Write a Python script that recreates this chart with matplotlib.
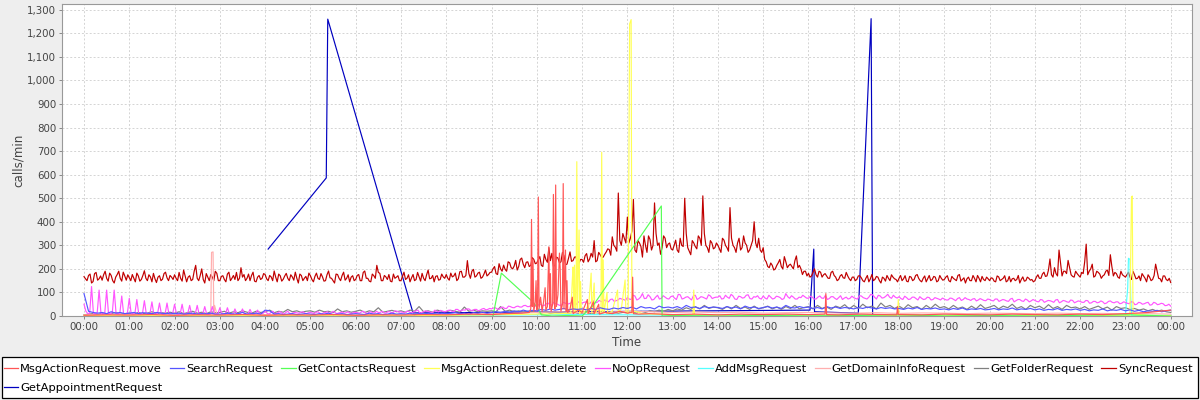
import matplotlib
matplotlib.use("Agg")
import matplotlib.pyplot as plt
from matplotlib.lines import Line2D
from matplotlib.patches import Rectangle
import numpy as np

# ---------------- DATA ----------------
hour_labels = ["00:00", "01:00", "02:00", "03:00", "04:00", "05:00", "06:00", "07:00",
               "08:00", "09:00", "10:00", "11:00", "12:00", "13:00", "14:00", "15:00",
               "16:00", "17:00", "18:00", "19:00", "20:00", "21:00", "22:00", "23:00", "00:00"]
y_ticks = list(range(0, 1301, 100))

# SyncRequest readings at minutes 0,4,8,...,1440
sync_even = [
    167,150,178,146,185,158,152,190,148,172,140,176,160,186,152,   # 00
    162,176,145,170,155,192,150,166,181,142,171,156,186,150,165,   # 01
    175,150,160,195,145,171,155,215,150,200,140,165,176,150,181,   # 02
    150,171,145,186,160,155,150,205,176,160,150,186,145,172,160,   # 03
    176,150,166,191,145,171,156,181,150,166,186,140,172,160,150,   # 04
    171,145,182,155,166,150,191,160,140,176,150,186,160,145,171,   # 05
    155,176,150,191,160,145,171,215,181,150,166,176,145,160,171,   # 06
    150,186,160,145,176,155,166,181,150,195,160,145,171,155,166,   # 07
    176,152,166,182,158,190,165,235,160,198,170,186,165,195,176,   # 08
    186,210,176,200,216,190,226,200,236,210,246,205,230,215,240,   # 09
    225,252,210,240,290,266,215,246,230,256,220,272,235,251,225,   # 10
    240,256,230,266,320,235,260,250,272,282,336,292,522,300,330,   # 11
    420,330,495,270,310,250,300,340,280,480,300,262,340,290,310,   # 12
    280,322,270,300,500,290,260,310,285,330,510,300,270,310,290,   # 13
    300,270,322,290,460,300,270,330,290,310,270,300,400,290,280,   # 14
    290,230,205,215,200,226,210,252,205,220,200,255,215,176,190,   # 15
    181,170,200,165,186,175,170,160,190,165,155,176,160,170,150,   # 16
    165,155,171,150,160,145,176,155,165,140,160,172,150,165,155,   # 17
    160,150,171,145,165,155,176,150,160,145,172,155,165,150,160,   # 18
    155,171,145,160,150,176,155,140,165,150,160,172,145,155,165,   # 19
    150,160,145,166,155,171,150,145,160,155,140,166,150,160,155,   # 20
    150,175,160,186,170,242,165,180,280,170,190,236,175,165,180,   # 21
    165,180,305,190,220,170,185,160,175,195,260,170,180,160,175,   # 22
    165,186,155,175,160,150,170,145,165,155,220,160,145,170,150,   # 23
    142]
# SyncRequest readings at minutes 2,6,10,...,1438
sync_odd = [
    158,172,140,180,152,170,175,160,182,150,165,190,148,170,175,   # 00
    150,160,182,148,172,160,175,145,158,165,150,180,162,172,155,   # 01
    160,185,148,170,165,150,190,160,172,155,180,150,165,190,150,   # 02
    168,155,178,150,172,185,160,165,150,178,172,148,165,155,180,   # 03
    158,172,150,165,178,148,170,160,175,152,160,178,150,168,182,   # 04
    155,168,160,180,148,175,162,150,178,160,172,152,175,165,150,   # 05
    172,150,185,160,148,178,160,185,150,172,155,148,178,165,150,   # 06
    168,155,175,162,150,185,148,160,175,158,172,168,152,178,160,   # 07
    160,182,170,150,188,165,172,180,190,165,182,160,178,170,185,   # 08
    200,180,222,190,198,230,205,212,195,240,220,228,210,248,222,   # 09
    240,215,262,228,235,210,250,225,270,218,245,232,250,215,240,   # 10
    228,265,242,250,230,270,248,262,285,258,300,275,320,350,310,   # 11
    310,360,280,320,295,340,270,325,300,350,310,290,330,305,285,   # 12
    300,280,330,295,350,275,320,295,340,300,350,290,320,285,310,   # 13
    285,330,300,275,330,290,310,280,340,300,280,320,310,330,270,   # 14
    240,210,225,195,215,240,200,230,215,210,235,205,200,190,170,   # 15
    165,185,175,190,165,180,160,185,172,150,170,162,185,158,165,   # 16
    150,170,162,145,172,158,150,168,150,165,148,160,175,158,145,   # 17
    172,158,148,168,150,172,160,145,170,158,150,168,145,172,152,   # 18
    165,150,168,155,172,148,162,158,150,172,145,160,168,150,158,   # 19
    162,148,170,150,160,145,168,158,150,172,155,148,165,152,145,   # 20
    165,160,178,168,195,175,205,170,225,190,180,205,168,190,172,   # 21
    185,230,175,200,165,190,178,170,190,172,210,185,165,190,170,   # 22
    175,165,190,158,170,180,160,175,150,172,190,158,170,155,160]   # 23

# NoOpRequest readings at minutes 0,5,10,...,1440
noop_even = [
    50,10,125,10,110,8,110,10,110,8,85,10,
    75,8,70,8,65,6,60,8,55,6,55,8,
    50,6,50,8,45,6,45,8,40,6,40,8,
    35,8,35,6,30,8,30,6,28,8,25,10,
    22,8,20,10,18,8,20,10,15,12,18,10,
    15,10,18,8,15,12,20,10,15,12,18,10,
    15,12,20,10,18,12,15,20,12,18,15,20,
    18,12,20,15,22,12,18,20,15,25,18,20,
    20,25,18,28,22,25,30,22,28,25,32,28,
    30,35,28,38,32,40,35,42,38,45,40,48,
    42,50,45,55,48,52,45,58,50,55,48,60,
    55,60,52,65,58,62,68,60,72,65,75,70,
    78,70,85,72,95,75,82,70,88,75,80,72,
    85,70,90,75,82,68,88,75,80,72,85,78,
    80,72,88,75,85,70,82,78,90,72,80,75,
    85,72,80,75,82,70,95,75,80,72,78,82,
    75,80,72,85,75,70,82,75,78,70,80,75,
    78,72,85,75,80,90,72,85,78,92,75,80,
    82,70,78,72,80,68,75,72,78,70,75,68,
    72,68,75,65,78,70,72,66,74,68,70,65,
    70,64,72,66,68,62,75,65,70,62,68,64,
    66,60,68,62,65,58,70,60,64,58,66,60,
    62,58,65,56,62,58,60,55,64,56,60,54,
    58,52,60,50,56,52,58,48,55,50,52,45,
    42]
# NoOpRequest readings at minutes 2.5,7.5,...,1437.5
noop_mid = [
    20,12,10,14,10,12,9,14,10,12,9,12,
    10,12,9,11,10,12,8,11,9,10,8,10,
    9,10,8,11,9,10,8,10,9,11,8,10,
    10,9,11,8,10,12,9,11,10,12,10,12,
    12,14,10,16,12,15,11,14,13,16,12,14,
    13,16,12,14,18,12,15,13,17,14,12,16,
    14,17,13,16,14,20,15,13,18,14,22,16,
    16,20,14,18,25,15,22,18,16,20,24,18,
    24,20,28,22,26,30,24,28,22,30,26,32,
    34,30,36,32,42,36,40,38,44,40,46,42,
    48,44,52,46,58,50,46,55,52,62,50,56,
    58,54,62,56,66,60,64,70,62,68,72,66,
    72,88,68,80,74,90,68,80,72,86,74,82,
    76,92,72,80,75,86,70,82,76,90,74,80,
    86,74,80,92,72,84,76,88,74,82,86,72,
    76,88,72,84,78,74,82,86,72,80,88,76,
    84,72,80,76,88,74,82,70,86,76,72,84,
    74,86,78,72,92,80,88,76,84,80,88,76,
    74,84,70,80,74,82,70,80,68,78,72,76,
    68,76,70,74,66,78,70,72,64,74,66,72,
    66,72,62,70,64,72,60,70,64,72,60,70,
    62,70,58,66,62,68,56,66,60,68,56,64,
    58,66,54,62,56,64,52,62,58,60,52,60,
    54,60,48,58,50,56,46,58,48,54,44,50]

# SearchRequest, one value every 6 minutes
search_step = 6
search_vals = [
    95,20,15,12,15,10,18,12,15,10,
    12,15,10,14,12,10,15,12,10,12,
    10,12,8,10,12,8,10,9,12,8,
    8,10,12,8,10,15,8,10,12,8,
    25,22,8,10,6,8,10,6,8,10,
    8,6,10,8,12,6,8,10,6,8,
    10,8,6,12,8,10,6,8,12,8,
    10,8,12,6,10,8,12,10,8,12,
    10,12,15,10,12,8,14,12,16,12,
    15,18,14,20,16,22,18,25,20,24,
    22,28,24,30,25,28,32,26,30,28,
    30,26,32,28,35,30,28,34,30,36,
    32,38,30,40,34,36,30,42,35,38,
    34,40,32,45,36,38,32,40,35,38,
    36,32,40,34,38,30,42,35,38,32,
    36,40,34,38,32,45,36,34,40,35,
    38,32,36,30,40,34,38,32,36,34,
    30,36,32,38,34,30,36,32,35,30,
    32,28,34,30,36,28,32,30,34,28,
    30,26,32,28,34,26,30,28,32,26,
    28,32,26,30,28,34,26,30,28,32,
    26,30,24,28,26,32,24,28,26,30,
    24,28,22,26,24,30,22,26,24,28,
    22,26,20,24,18,22,20,24,18,22,
    25]

# GetFolderRequest, one value every 6 minutes
folder_step = 6
folder_vals = [
    5,8,10,6,12,8,10,15,8,10,
    12,8,15,10,12,18,10,14,12,16,
    12,18,10,15,20,12,16,10,18,14,
    15,20,12,18,14,22,16,12,20,15,
    18,25,14,20,16,28,18,22,15,20,
    22,16,25,18,20,14,30,18,22,16,
    20,25,15,22,18,35,16,20,24,18,
    22,16,25,20,40,18,22,16,25,20,
    18,24,20,16,38,20,25,18,22,20,
    22,18,40,20,25,18,22,16,20,18,
    15,12,18,10,15,12,14,10,16,12,
    12,15,10,14,12,16,10,14,12,15,
    14,18,12,20,15,22,18,25,20,28,
    22,30,25,35,28,40,30,45,32,38,
    35,28,40,30,45,32,38,28,42,30,
    35,42,30,38,28,40,32,45,30,36,
    40,30,45,32,38,28,42,35,48,30,
    45,32,50,35,42,30,55,38,45,32,
    42,30,48,35,40,28,45,32,50,35,
    40,30,45,32,38,28,42,30,48,32,
    38,45,30,42,35,50,32,40,28,45,
    35,42,30,48,32,40,28,45,35,38,
    30,40,28,35,42,30,38,25,40,32,
    35,28,32,25,30,22,28,20,25,18,
    15]

# Sparse series: (minute of day, calls/min)
move_pts = [(0,3),(30,5),(60,4),(90,6),(120,3),(150,5),(180,4),(210,6),(240,3),(270,5),
            (300,4),(330,6),(360,3),(390,5),(420,4),(450,6),(480,5),(510,8),(540,6),(560,10),
            (580,12),(590,15),(592,30),(593,410),(594,40),(595,238),(596,20),(598,60),(599,150),
            (600,25),(601,40),(602,505),(603,30),(605,80),(607,20),(609,60),(611,120),(612,25),
            (614,40),(616,294),(617,30),(618,180),(619,20),(621,50),(622,516),(623,60),(624,30),
            (625,556),(626,40),(628,90),(630,267),(631,200),(632,20),(634,50),(635,562),(636,30),
            (638,280),(639,20),(640,150),(641,15),(644,30),(647,80),(648,10),(655,25),(660,15),
            (667,70),(668,10),(675,60),(676,10),(682,50),(683,8),(690,15),(700,10),(710,20),
            (720,12),(726,15),(727,165),(728,10),(735,8),(750,10),(780,6),(810,8),(840,5),
            (870,8),(900,6),(930,8),(960,6),(982,8),(983,95),(984,6),(1000,5),(1030,8),(1060,6),
            (1077,5),(1078,40),(1079,6),(1110,5),(1140,8),(1170,6),(1200,5),(1230,8),(1260,6),
            (1290,5),(1320,8),(1350,6),(1380,10),(1410,15),(1425,20),(1440,25)]

contacts_pts = [(542,0),(553,182),(592,68),(600,40),(606,5),(620,0),(640,2),(660,0),(675,46),
                (765,467),(766,0),(780,2),(840,0),(900,3),(960,0),(1020,2),(1080,5),(1140,0),
                (1200,2),(1260,0),(1320,3),(1380,5),(1440,0)]

delete_pts = [(0,2),(60,1),(120,2),(180,1),(240,2),(300,1),(360,2),(420,1),(480,3),(540,5),
              (600,8),(630,10),(645,12),(647,150),(648,208),(649,10),(650,216),(651,15),(652,30),
              (653,655),(654,20),(656,365),(657,10),(658,146),(659,15),(664,20),(667,40),(668,10),
              (672,182),(673,12),(676,140),(677,10),(680,25),(685,15),(686,695),(687,20),(688,238),
              (689,12),(693,100),(694,10),(700,20),(707,110),(708,15),(712,30),(717,153),(718,20),
              (721,10),(723,1240),(725,1258),(726,12),(730,20),(740,10),(760,8),(780,6),(807,5),
              (808,110),(809,5),(840,4),(900,3),(960,4),(1020,3),(1078,3),(1079,70),(1080,4),
              (1140,3),(1200,2),(1260,3),(1320,2),(1385,3),(1386,10),(1388,505),(1389,509),
              (1390,8),(1410,3),(1440,2)]

addmsg_pts = [(0,2),(60,1),(120,3),(180,1),(240,2),(300,1),(360,2),(420,3),(480,2),(540,4),
              (600,5),(660,6),(720,5),(780,4),(840,5),(900,4),(960,3),(1020,4),(1080,3),(1140,4),
              (1200,3),(1260,4),(1320,3),(1380,4),(1383,120),(1384,245),(1386,240),(1387,80),
              (1388,5),(1410,3),(1440,2)]

domain_pts = [(0,5),(30,4),(60,6),(90,3),(120,5),(150,4),(168,8),(169,270),(171,272),(172,12),
              (173,45),(176,8),(180,5),(210,4),(240,6),(270,5),(300,3),(330,5),(360,4),(390,6),
              (420,5),(450,4),(480,6),(510,8),(540,10),(570,12),(600,15),(630,18),(660,14),
              (690,16),(720,20),(750,18),(780,15),(810,17),(840,14),(870,16),(900,12),(930,14),
              (960,15),(990,13),(1020,12),(1050,14),(1080,11),(1110,13),(1140,12),(1170,10),
              (1200,12),(1230,11),(1260,10),(1290,12),(1320,10),(1350,11),(1380,9),(1410,10),
              (1440,8)]

appointment_pts = [(244,284),(321,586),(323,1260),(436,13),(962,25),(967,284),(968,18),
                   (1026,12),(1043,1262),(1045,5)]

labels = ["MsgActionRequest.move", "SearchRequest", "GetContactsRequest",
          "MsgActionRequest.delete", "NoOpRequest", "AddMsgRequest",
          "GetDomainInfoRequest", "GetFolderRequest", "SyncRequest",
          "GetAppointmentRequest"]
colors = ["#ff5555", "#5555ff", "#55ff55", "#ffff55", "#ff55ff", "#55ffff",
          "#ffafaf", "#808080", "#c00000", "#0000c0"]

# ---------------- BUILD ----------------
def regular(vals, step, offset=0.0):
    t = (offset + np.arange(len(vals)) * step) / 60.0
    return t, np.asarray(vals, float)

def sparse(pts):
    a = np.asarray(pts, float)
    return a[:, 0] / 60.0, a[:, 1]

def merge(*parts):
    t = np.concatenate([p[0] for p in parts])
    v = np.concatenate([p[1] for p in parts])
    o = np.argsort(t, kind="stable")
    return t[o], v[o]

series = [
    sparse(move_pts),
    regular(search_vals, search_step),
    sparse(contacts_pts),
    sparse(delete_pts),
    merge(regular(noop_even, 5, 0), regular(noop_mid, 5, 2.5)),
    sparse(addmsg_pts),
    sparse(domain_pts),
    regular(folder_vals, folder_step),
    merge(regular(sync_even, 4, 0), regular(sync_odd, 4, 2)),
    sparse(appointment_pts),
]

W, H = 1200, 400
fig = plt.figure(figsize=(12, 4), dpi=100, facecolor="#eeeeee")
ax = fig.add_axes([62 / W, 1 - 316 / H, (1192 - 62) / W, (316 - 4.3) / H])
ax.set_facecolor("white")

n = len(series)
for i, ((t, v), c) in enumerate(zip(series, colors)):
    ax.plot(t, v, color=c, lw=0.85, zorder=3 + (n - i))

ax.set_xlim(-0.486, 24.47)
ax.set_ylim(0, 1323)
ax.set_xticks(np.arange(len(hour_labels)))
ax.set_xticklabels(hour_labels)
ax.set_yticks(y_ticks)
ax.set_yticklabels([f"{v:,}" for v in y_ticks])
ax.tick_params(axis="both", direction="out", length=2.2, width=0.7, color="#888888",
               labelsize=7.4, labelcolor="#444444", pad=2)
ax.grid(True, color="#d4d4d4", lw=0.7, linestyle=(0, (2, 2)), zorder=0)
ax.set_axisbelow(True)
for s in ax.spines.values():
    s.set_color("#999999")
    s.set_linewidth(0.8)

fig.text(18 / W, 1 - 160 / H, "calls/min", rotation=90, ha="center", va="center",
         fontsize=8.6, color="#444444")
fig.text(627 / W, 1 - 342 / H, "Time", ha="center", va="center", fontsize=8.6,
         color="#444444")

# legend box
fig.patches.append(Rectangle((1.5 / W, 1 - 398.3 / H), (1197.5 - 1.5) / W, (398.3 - 356.7) / H,
                             transform=fig.transFigure, facecolor="white",
                             edgecolor="black", lw=0.9, zorder=1))
fig.canvas.draw()
renderer = fig.canvas.get_renderer()
x = 3.5
row_y = [368.3, 387.0]
row = 0
for i, (lab, c) in enumerate(zip(labels, colors)):
    if i == 9:
        row = 1
        x = 3.5
    yy = 1 - row_y[row] / H
    fig.lines.append(Line2D([x / W, (x + 14.5) / W], [yy, yy], color=c, lw=0.9,
                            transform=fig.transFigure, zorder=2))
    tx = fig.text((x + 16.5) / W, yy, lab, ha="left", va="center_baseline",
                  fontsize=8.25, color="black", zorder=2)
    w = tx.get_window_extent(renderer).width
    x = x + 16.5 + w + 8

fig.savefig("out.png", dpi=100, facecolor=fig.get_facecolor())
